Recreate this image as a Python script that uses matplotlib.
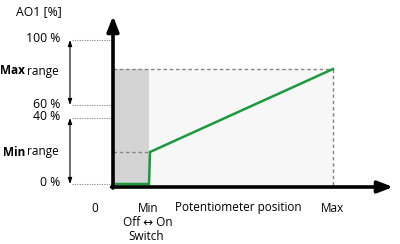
import matplotlib

matplotlib.use("Agg")
import matplotlib.pyplot as plt

plt.rcParams["font.family"] = ["Open Sans", "DejaVu Sans"]

# schematic coordinates (diagram units, y grows downward like the drawing)
level_labels = ["100 %", "60 %", "40 %", "0 %"]
level_y = [40, 105, 118, 184]
range_labels = [("Max", "range"), ("Min", "range")]
range_y = [71, 152]

x_origin, x_min, x_max = 113, 149, 333
y_zero, y_min_out, y_max_out = 184, 152, 69

curve_x = [114, x_min, 150, x_max]
curve_y = [y_zero, y_zero, y_min_out, y_max_out]

xtick_labels = ["0", "Min", "Potentiometer position", "Max"]
xtick_x = [95, 148, 238, 333]

GREEN = "#1a9a3c"
DASH = "#858585"

fig = plt.figure(figsize=(4.0, 2.44), dpi=100)
ax = fig.add_axes([0, 0, 1, 1])
ax.set_xlim(0, 400)
ax.set_ylim(244, 0)
ax.axis("off")

# shaded regions
ax.fill_between([x_origin, x_min], y_max_out, y_zero + 1, color="#d4d4d4", lw=0, zorder=1)
ax.fill_between([x_min, x_max], y_max_out, y_zero + 1, color="#f7f7f7", lw=0, zorder=1)

# dashed guides
ax.plot([x_origin, x_max], [y_max_out, y_max_out], color=DASH, lw=1.0, ls=(0, (2.5, 2)), zorder=2)
ax.plot([x_max, x_max], [y_max_out, y_zero + 1], color=DASH, lw=1.0, ls=(0, (2.5, 2)), zorder=2)
ax.plot([x_origin, 150], [y_min_out, y_min_out], color=DASH, lw=1.0, ls=(0, (2.5, 2)), zorder=2)

# dotted level lines
for y in level_y:
    ax.plot([72, x_origin], [y, y], color=DASH, lw=0.8, ls=(0, (1, 1.2)), zorder=2)

# range arrows
for y0, y1 in [(level_y[0], level_y[1]), (level_y[2], level_y[3])]:
    ax.annotate("", xy=(70, y1), xytext=(70, y0),
                arrowprops=dict(arrowstyle="<|-|>,head_length=0.35,head_width=0.12",
                                color="black", lw=0.8, shrinkA=0, shrinkB=0))

# the curve
ax.plot(curve_x, curve_y, color=GREEN, lw=1.8, solid_joinstyle="miter", zorder=4)

# axes arrows
ax.annotate("", xy=(x_origin, 16), xytext=(x_origin, 188),
            arrowprops=dict(arrowstyle="-|>,head_length=0.9,head_width=0.35",
                            color="black", lw=2.6, shrinkA=0, shrinkB=0), zorder=5)
ax.annotate("", xy=(393, 187), xytext=(111.6, 187),
            arrowprops=dict(arrowstyle="-|>,head_length=0.9,head_width=0.35",
                            color="black", lw=2.6, shrinkA=0, shrinkB=0), zorder=5)

fs = 8.5
ax.text(16, 12, "AO1 [%]", fontsize=fs + 0.3, ha="left", va="center")
for lab, y in zip(level_labels, level_y):
    ax.text(60, y - 1, lab, fontsize=fs + 0.3, ha="right", va="center")
for (bold, rest), y in zip(range_labels, range_y):
    t = ax.text(59, y, rest, fontsize=fs, ha="right", va="center")
    ax.annotate(bold, xy=(0, 0.5), xycoords=t, xytext=(-2, 0), textcoords="offset pixels",
                ha="right", va="center", fontsize=fs, fontweight="bold")

for lab, x in zip(xtick_labels, xtick_x):
    ax.text(x, 208, lab, fontsize=fs, ha="center", va="center")
ax.text(148, 222, "Off \u2194 On", fontsize=fs, ha="center", va="center")
ax.text(146, 237, "Switch", fontsize=fs, ha="center", va="center")

fig.savefig("out.png", dpi=100)
